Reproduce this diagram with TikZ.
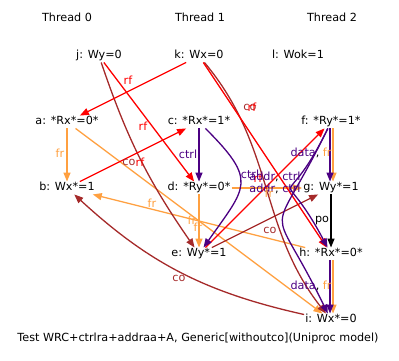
\documentclass[tikz,border=0pt]{standalone}
\usepackage{fontspec}
\setmainfont{DejaVu Sans}
\usetikzlibrary{arrows.meta,positioning}
\definecolor{RfRed}{HTML}{FF0000}
\definecolor{CoBrown}{HTML}{A52A2A}
\definecolor{FrOrange}{HTML}{FFA040}
\definecolor{DepIndigo}{HTML}{4B0082}

\begin{document}
\begin{tikzpicture}[
  x=1pt,y=-1pt,
  font=\fontsize{11.2}{13}\selectfont,
  node distance=66pt and 132pt,on grid,
  ev/.style={inner sep=1pt,text height=8pt,text depth=2.5pt},
  lbl/.style={inner sep=0pt},
  edge/.style={line width=1.3pt,-{Triangle[length=9pt,width=7pt]}},
  rf/.style={edge,draw=RfRed},
  co/.style={edge,draw=CoBrown},
  fr/.style={edge,draw=FrOrange},
  dep/.style={edge,draw=DepIndigo},
  po/.style={edge,draw=black}
]
\useasboundingbox (0,0) rectangle (399,361);
\node (t0) at (67,17) {Thread 0};
\node (t1) at (200,17) {Thread 1};
\node (t2) at (332,17) {Thread 2};
\node[ev] (a) at (67,122) {a: *Rx*=0*};
\node[ev,below=of a] (b) {b: Wx*=1};
\node[ev,right=of a] (c) {c: *Rx*=1*};
\node[ev,below=of c] (d) {d: *Ry*=0*};
\node[ev,below=of d] (e) {e: Wy*=1};
\node[ev,right=of c] (f) {f: *Ry*=1*};
\node[ev,below=of f] (g) {g: Wy*=1};
\node[ev,below=of g] (h) {h: *Rx*=0*};
\node[ev,below=of h] (i) {i: Wx*=0};
\node[ev,above=of c] (k) {k: Wx=0};
\node[ev] (j) at (99,56) {j: Wy=0};
\node[ev] (l) at (298,56) {l: Wok=1};
\node (cap) at (198,338) {Test WRC+ctrlra+addraa+A, Generic[withoutco](Uniproc model)};

\draw[fr] (a) -- (b);
\draw[fr] (a) -- (i);
\draw[fr] (h) -- (b);
\draw[fr] (d) -- (e);
\draw[fr] (d) -- (g);
\draw[fr] ([xshift=2pt]f.south) -- ([xshift=2pt]g.north);
\draw[fr] ([xshift=2pt]h.south) -- ([xshift=2pt]i.north);
\draw[co] (j) to[bend right=8] (e);
\draw[co] (k) to[out=-50,in=128] (i);
\draw[co] (e) -- (g);
\draw[co] (i) to[bend left=15] (b);
\draw[rf] (k) -- (a);
\draw[rf] (j) -- (d);
\draw[rf] (b) -- (c);
\draw[rf] (k) -- (h);
\draw[rf] (e) -- (f);
\draw[dep] (c) -- (d);
\draw[dep] (c) to[out=-45,in=55,looseness=1.6] (e);
\draw[dep] (f) to[out=244,in=118,looseness=2.3] (h);
\draw[dep] (f) to[out=244,in=116,looseness=1.9] (i);
\draw[dep] ([xshift=-1pt]f.south) -- ([xshift=-1pt]g.north);
\draw[dep] ([xshift=-1pt]h.south) -- ([xshift=-1pt]i.north);
\draw[po] (g) -- (h);

\node[lbl,text=RfRed] (rfka) at (128,80) {rf};
\node[lbl,text=RfRed] (rfjd) at (143,126) {rf};
\node[lbl,text=CoBrown] (coje) at (129,162) {co};
\node[lbl,text=RfRed] (rfbc) at (140,162) {rf};
\node[lbl,text=CoBrown] (coki) at (250,107) {co};
\node[lbl,text=RfRed] (rfkh) at (252,107) {rf};
\node[lbl,text=FrOrange] (frab) at (60,153) {fr};
\node[lbl,text=FrOrange] (frhb) at (152,203) {fr};
\node[lbl,text=FrOrange] (frai) at (192,220) {fr};
\node[lbl,text=FrOrange] (frde) at (198,227) {fr};
\node[lbl,text=DepIndigo] (ctcd) at (188,154) {ctrl};
\node[lbl,text=DepIndigo] (ctce) at (250,174) {ctrl};
\node[lbl,text=RfRed] (rfef) at (258,178) {rf};
\node[lbl] (adfh) at (275,177) {\textcolor{DepIndigo}{addr}, \textcolor{DepIndigo}{ctrl}};
\node[lbl] (adfi) at (275,189) {\textcolor{DepIndigo}{addr}, \textcolor{DepIndigo}{ctrl}};
\node[lbl,text=FrOrange] (frdg) at (269,193) {fr};
\node[lbl] (dafg) at (311,153) {\textcolor{DepIndigo}{data}, \textcolor{FrOrange}{fr}};
\node[lbl] (dahi) at (311,286) {\textcolor{DepIndigo}{data}, \textcolor{FrOrange}{fr}};
\node[lbl] (pogh) at (322,221) {po};
\node[lbl,text=CoBrown] (coeg) at (270,230) {co};
\node[lbl,text=CoBrown] (coib) at (179,278) {co};
\end{tikzpicture}
\end{document}
